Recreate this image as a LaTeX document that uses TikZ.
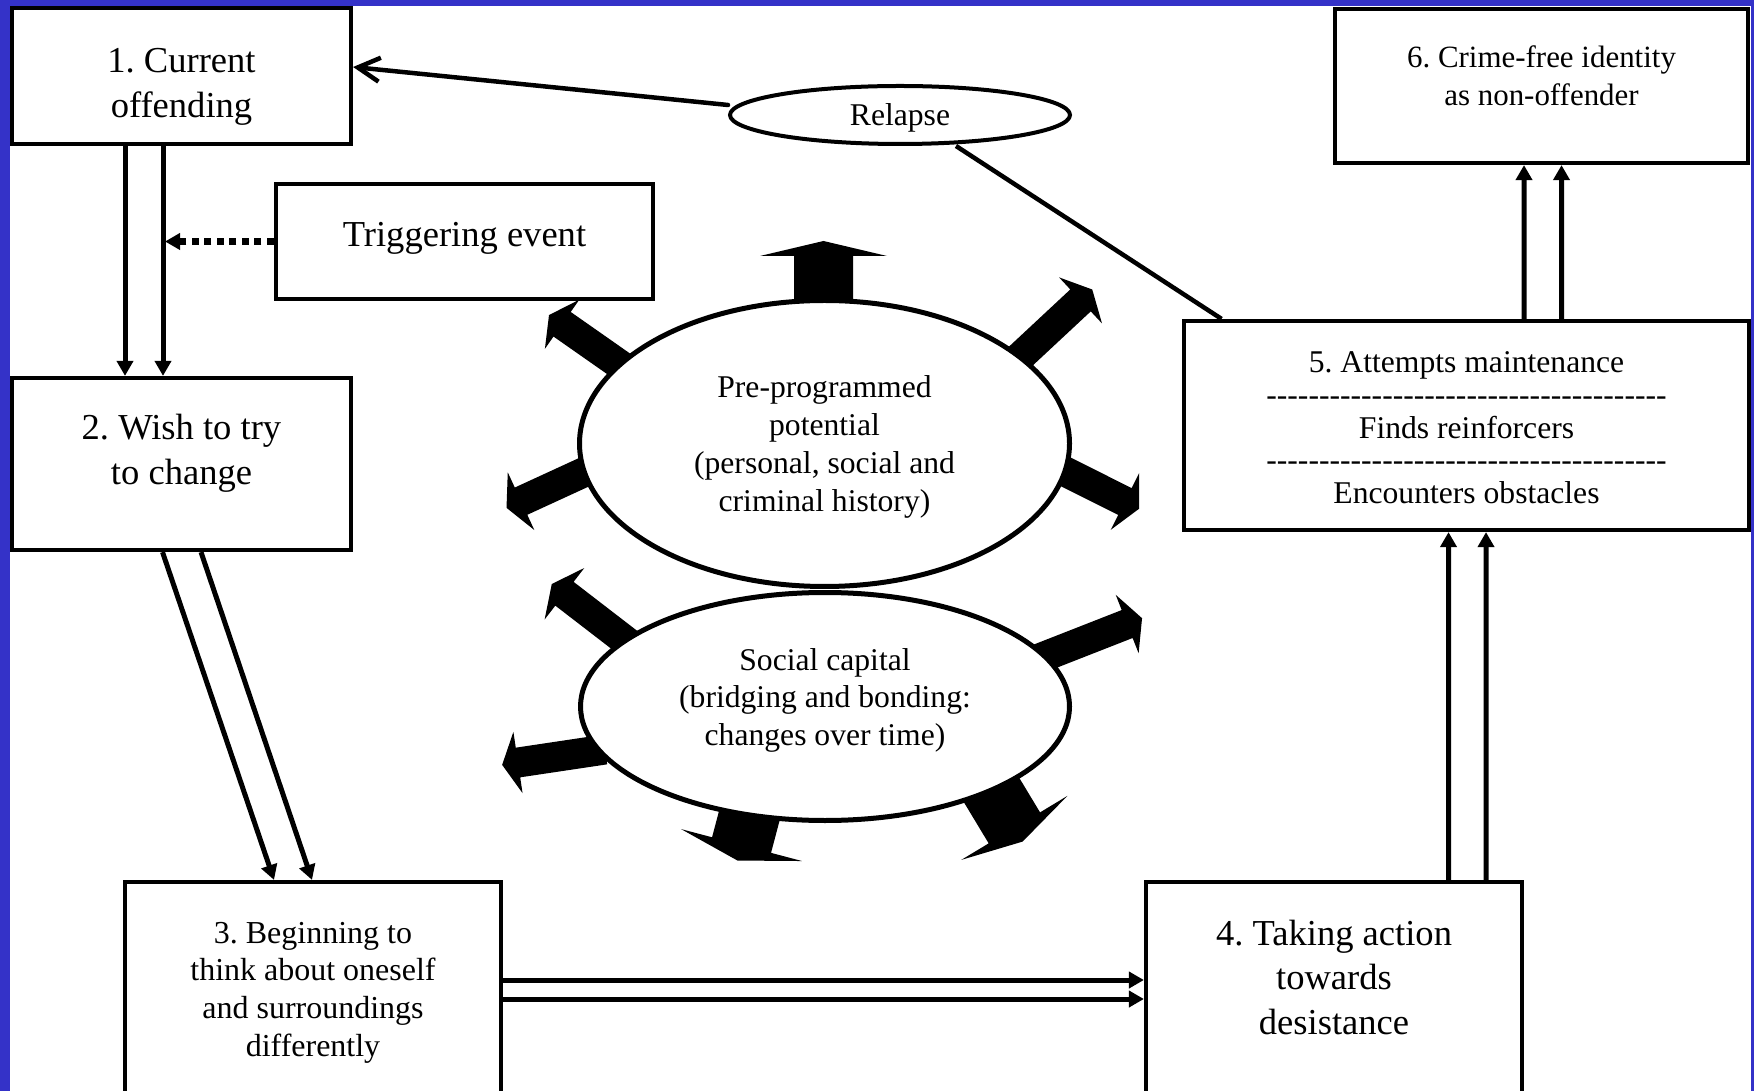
\documentclass[tikz,border=0pt]{standalone}
\usepackage{fontspec}
\setmainfont{Liberation Serif}
\usetikzlibrary{arrows.meta, shapes.geometric}
\frenchspacing

\definecolor{frameblue}{RGB}{52,50,200}

\newcommand{\boxtext}[2]{\raisebox{#1}[0pt][0pt]{\begin{tabular}[t]{@{}c@{}}#2\end{tabular}}}
\newcommand{\hy}{\mbox{-}}
\newcommand{\hyfive}{\hy\hy\hy\hy\hy}
\newcommand{\hyrow}{\hyfive\hyfive\hyfive\hyfive\hyfive\hyfive\hyfive\hy\hy\hy}
\newcommand{\fatarrow}[6]{%
  \fill[black, shift={(#1)}, rotate=#2]
    (0,-#4) -- ({#3-#6},-#4) -- ({#3-#6},-#5) -- (#3,0)
    -- ({#3-#6},#5) -- ({#3-#6},#4) -- (0,#4) -- cycle;}

\begin{document}
\begin{tikzpicture}[x=0.1mm, y=-0.1mm,
        stage/.style={rectangle, draw, line width=0.42mm, fill=white,
                      inner sep=0pt, font=\fontsize{10.4pt}{12.6pt}\selectfont},
        oval/.style={ellipse, draw, line width=0.5mm, fill=white,
                     inner sep=0pt, font=\fontsize{9pt}{10.8pt}\selectfont},
        flow/.style={line width=0.5mm, -{Triangle[length=1.5mm, width=1.6mm]}},
        cue/.style={line width=0.65mm, dash pattern=on 0.7mm off 0.55mm,
                    -{Triangle[length=1.5mm, width=1.6mm]}},
        backflow/.style={line width=0.45mm, line cap=round,
                         -{Straight Barb[length=2.2mm, width=2.4mm]}},
        tie/.style={line width=0.45mm}
    ]
        \useasboundingbox (0,0) rectangle (1754,1091);
        \fill[frameblue] (0,0) rectangle (1754,1091);
        \fill[white] (10,6) rectangle (1751,1091);

        \fatarrow{823.5,310}{90}{69}{29.5}{63.5}{15}
        \fatarrow{626,369}{145}{94}{15}{30}{16}
        \fatarrow{1014.7,361.8}{43}{106}{15}{31.5}{16}
        \fatarrow{1059,468.5}{-26.6}{89.7}{15}{31.7}{16}
        \fatarrow{591,469}{204.7}{93}{15}{31.8}{16}
        \fatarrow{631,645}{142.4}{100}{15}{32.5}{16}
        \fatarrow{1038.7,658.7}{21.4}{111}{15}{31.4}{16}
        \fatarrow{605,749.5}{188.5}{104}{15}{31}{16}
        \fatarrow{751,809.3}{-104.8}{53}{30.5}{62.5}{16}
        \fatarrow{987.3,783}{-58.9}{68.4}{30}{62}{16}

        \node[oval, minimum width=49mm, minimum height=28.6mm] (pp) at (824.5,443.5)
            {\boxtext{4.55mm}{Pre-programmed\\potential\\(personal, social and\\criminal history)}};
        \node[oval, minimum width=48.9mm, minimum height=22.8mm] (sc) at (825,706.5)
            {\boxtext{3.65mm}{Social capital\\(bridging and bonding:\\changes over time)}};
        \node[oval, line width=0.4mm, minimum width=34mm, minimum height=5.8mm] (relapse) at (900,115)
            {\boxtext{-1.1mm}{Relapse}};

        \node[stage, minimum width=33.9mm, minimum height=13.6mm] (offend) at (181.5,76)
            {\boxtext{0.3mm}{1. Current\\offending}};
        \node[stage, minimum width=37.7mm, minimum height=11.5mm] (trigger) at (464.5,241.5)
            {\boxtext{-0.55mm}{Triggering event}};
        \node[stage, minimum width=33.9mm, minimum height=17.2mm] (wish) at (181.5,464)
            {\boxtext{2.4mm}{2. Wish to try\\to change}};
        \node[stage, minimum width=37.6mm, minimum height=23mm,
              font=\fontsize{9.1pt}{10.8pt}\selectfont] (think) at (313,997)
            {\boxtext{5.4mm}{3. Beginning to\\think about oneself\\and surroundings\\differently}};
        \node[stage, minimum width=37.6mm, minimum height=23mm,
              font=\fontsize{10.4pt}{12.8pt}\selectfont] (act) at (1334,997)
            {\boxtext{5.2mm}{4. Taking action\\towards\\desistance}};
        \node[stage, minimum width=56.5mm, minimum height=20.9mm,
              font=\fontsize{9pt}{9.25pt}\selectfont] (maint) at (1466.5,425.5)
            {\boxtext{5.25mm}{5. Attempts maintenance\\\hyrow\\Finds reinforcers\\\hyrow\\Encounters obstacles}};
        \node[stage, minimum width=41.3mm, minimum height=15.4mm,
              font=\fontsize{8.8pt}{10.8pt}\selectfont] (ident) at (1541.5,86)
            {\boxtext{1.8mm}{6. Crime-free identity\\as non-offender}};

        \coordinate (tap) at (165,241.5);

        \draw[flow] ([xshift=-5.65mm]offend.south) -- ([xshift=-5.65mm]wish.north);
        \draw[flow] ([xshift=-1.85mm]offend.south) -- ([xshift=-1.85mm]wish.north);
        \draw[cue] (trigger.west) -- (tap);
        \draw[flow] ([xshift=-1.9mm]wish.south) -- ([xshift=-3.9mm]think.north);
        \draw[flow] ([xshift=1.95mm]wish.south) -- ([xshift=-0.1mm]think.north);
        \draw[flow] ([yshift=1.7mm]think.east) -- ([yshift=1.7mm]act.west);
        \draw[flow] ([yshift=-0.2mm]think.east) -- ([yshift=-0.2mm]act.west);
        \draw[flow] ([xshift=11.45mm]act.north) -- ([xshift=-1.8mm]maint.south);
        \draw[flow] ([xshift=15.2mm]act.north) -- ([xshift=1.95mm]maint.south);
        \draw[flow] ([xshift=5.75mm]maint.north) -- ([xshift=-1.75mm]ident.south);
        \draw[flow] ([xshift=9.5mm]maint.north) -- ([xshift=2mm]ident.south);
        \draw[backflow] ([yshift=1mm]relapse.west) -- ([yshift=0.9mm]offend.east);
        \draw[tie] ([xshift=5.6mm]relapse.south) -- ([xshift=-24.5mm]maint.north);
    \end{tikzpicture}
\end{document}
